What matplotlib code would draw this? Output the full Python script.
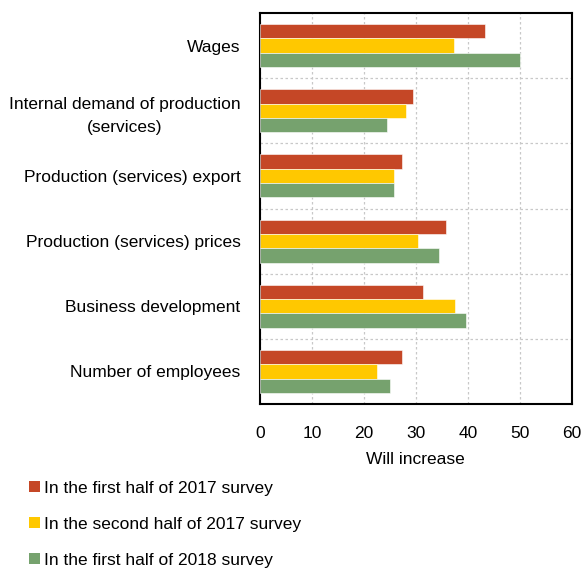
import numpy as np
import matplotlib.pyplot as plt
from matplotlib.patches import Patch

plt.rcParams['font.family'] = ['Liberation Sans', 'DejaVu Sans']

categories = [
    "Wages",
    "Internal demand of production\n(services)",
    "Production (services) export",
    "Production (services) prices",
    "Business development",
    "Number of employees",
]
series_names = [
    "In the first half of 2017 survey",
    "In the second half of 2017 survey",
    "In the first half of 2018 survey",
]
h1_2017 = [43.4, 29.4, 27.4, 35.8, 31.4, 27.3]
h2_2017 = [37.3, 28.2, 25.8, 30.4, 37.6, 22.5]
h1_2018 = [50.0, 24.4, 25.8, 34.5, 39.6, 25.1]

colors = ["#C54726", "#FFC800", "#76A26E"]
fs = 12.5

fig = plt.figure(figsize=(5.84, 5.69), dpi=100)
ax = fig.add_axes([0.445, 0.290, 0.534, 0.687])

n = len(categories)
y = np.arange(n)
bar_h = 0.22
for i, vals in enumerate([h1_2017, h2_2017, h1_2018]):
    ax.barh(y + (i - 1) * bar_h, vals, height=bar_h, color=colors[i],
            edgecolor="white", linewidth=0.4, label=series_names[i], zorder=3)

ax.set_xlim(0, 60)
ax.set_ylim(n - 0.5, -0.5)
ax.set_xticks(np.arange(0, 61, 10))
ax.set_yticks(y)
ax.set_yticklabels(categories, fontsize=fs, linespacing=1.65)
ax.set_yticks(np.arange(0.5, n - 0.5, 1), minor=True)
ax.tick_params(axis="both", which="both", length=0, labelsize=fs)
ax.tick_params(axis="y", pad=14)
ax.tick_params(axis="x", pad=16)
for lbl in ax.get_yticklabels():
    lbl.set_horizontalalignment("right")
    lbl.set_multialignment("center")

ax.grid(axis="x", which="major", color="#c8c8c8", linestyle=(0, (2, 2)), linewidth=0.9, zorder=0)
ax.grid(axis="y", which="minor", color="#c8c8c8", linestyle=(0, (2, 2)), linewidth=0.9, zorder=0)
for s in ax.spines.values():
    s.set_linewidth(1.5)
    s.set_color("black")

ax.set_xlabel("Will increase", fontsize=fs, labelpad=8)

handles = [Patch(facecolor=c) for c in colors]
fig.legend(handles, series_names, loc="upper left", bbox_to_anchor=(0.038, 0.167),
           frameon=False, fontsize=fs, handlelength=0.62, handleheight=0.62,
           handletextpad=0.25, labelspacing=1.21, borderaxespad=0)

fig.savefig("out.png", dpi=100)
